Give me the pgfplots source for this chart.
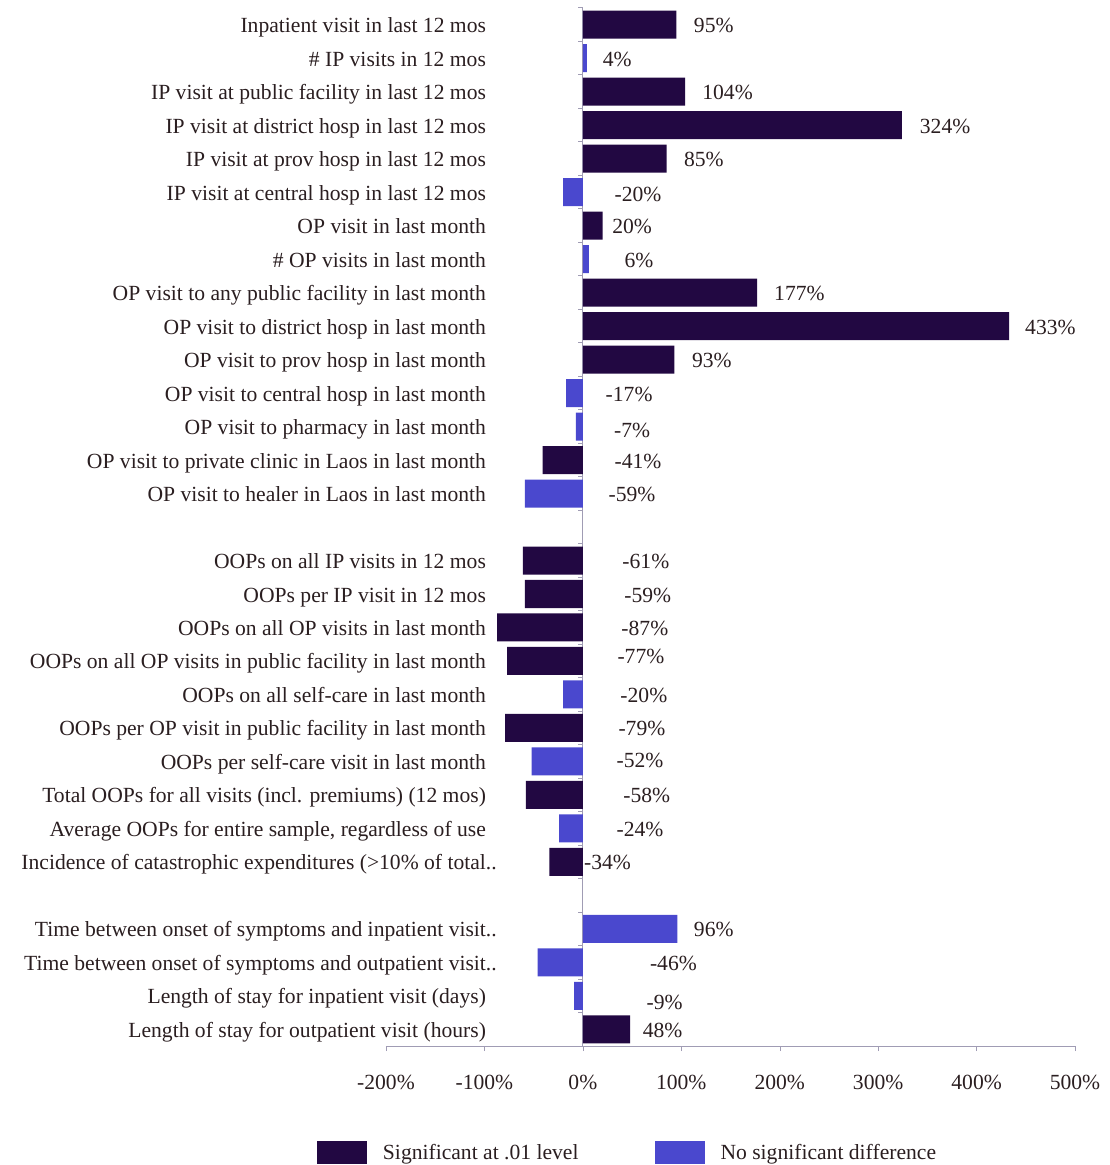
\documentclass[border=0pt]{standalone}
\usepackage{fontspec}
\setmainfont{Liberation Serif}
\usepackage{pgfplots}
\pgfplotsset{compat=1.18}
\usepackage{pgfplotstable}

\definecolor{sigc}{RGB}{34,8,66}
\definecolor{nsc}{RGB}{74,72,206}
\definecolor{txt}{RGB}{42,30,32}
\definecolor{axc}{RGB}{160,156,180}
\newcommand{\lbl}{\fontsize{10.8}{13}\selectfont}

% row = position from the top, val = change in %, lx/ly = where its label sits
\pgfplotstableread{
row val lx ly
0 95 133 0
2 104 147 0
3 324 368 0
4 85 123 0
6 20 50 0
8 177 220 0
9 433 475 0
10 93 131 0
13 -41 56 0
16 -61 64 0
17 -59 66 0
18 -87 63 0
19 -77 59 -0.15
21 -79 60 0
23 -58 65 0
25 -34 25 0
30 48 81 0
}\sigdata

\pgfplotstableread{
row val lx ly
1 4 35 0
5 -20 56 0.05
7 6 57 0
11 -17 47 0
12 -7 50 0.1
14 -59 50 0
20 -20 62 0
22 -52 58 -0.05
24 -24 58 0
27 96 133 0
28 -46 92 0
29 -9 83 0.18
}\nsdata

\begin{document}
\begin{tikzpicture}
\begin{axis}[
    scale only axis,
    width=344.5pt, height=519pt,
    xmin=-200, xmax=500,
    ymin=-0.5, ymax=30.5,
    y dir=reverse,
    clip=false,
    axis x line*=bottom,
    axis y line*=left,
    axis line style={axc, line width=0.5pt},
    y axis line style={draw=none},
    xtick={-200,-100,0,100,200,300,400,500},
    xticklabels={-200\%,-100\%,0\%,100\%,200\%,300\%,400\%,500\%},
    xtick align=outside,
    major tick length=2.5pt,
    xtick style={axc},
    ytick style={draw=none},
    xticklabel style={yshift=-8.5pt},
    ytick={0,...,14,16,17,...,25,27,28,29,30},
    yticklabels={
      Inpatient visit in last 12 mos,
      \# IP visits in 12 mos,
      IP visit at public facility in last 12 mos,
      IP visit at district hosp in last 12 mos,
      IP visit at prov hosp in last 12 mos,
      IP visit at central hosp in last 12 mos,
      OP visit in last month,
      \# OP visits in last month,
      OP visit to any public facility in last month,
      OP visit to district hosp in last month,
      OP visit to prov hosp in last month,
      OP visit to central hosp in last month,
      OP visit to pharmacy in last month,
      OP visit to private clinic in Laos in last month,
      OP visit to healer in Laos in last month,
      OOPs on all IP visits in 12 mos,
      OOPs per IP visit in 12 mos,
      OOPs on all OP visits in last month,
      OOPs on all OP visits in public facility in last month,
      OOPs on all self-care in last month,
      OOPs per OP visit in public facility in last month,
      OOPs per self-care visit in last month,
      Total OOPs for all visits (incl. premiums) (12 mos),
      {Average OOPs for entire sample, regardless of use},
      Incidence of catastrophic expenditures (>10\% of total\rlap{..},
      Time between onset of symptoms and inpatient visit\rlap{..},
      Time between onset of symptoms and outpatient visit\rlap{..},
      Length of stay for inpatient visit (days),
      Length of stay for outpatient visit (hours)
    },
    yticklabel style={xshift=53.5pt, yshift=-1.5pt, anchor=east,
      text height=7.5pt, text depth=2.5pt},
    every tick label/.append style={font=\lbl, text=txt},
    legend style={at={(axis description cs:0.352,-0.103)}, anchor=center,
      overlay, draw=none, fill=none, legend columns=2, font=\lbl, text=txt,
      /tikz/every odd column/.append style={column sep=6pt},
      /tikz/every even column/.append style={column sep=36pt}},
    legend image code/.code={\fill[#1] (0pt,-5.75pt) rectangle (25pt,5.75pt);},
  ]
  % zero line with its small ticks between the rows
  \draw[axc, line width=0.5pt] (axis cs:0,-0.5) -- (axis cs:0,30.5);
  \pgfplotsinvokeforeach{0,...,30}{
    \draw[axc, line width=0.5pt] (axis cs:0,#1-0.5) -- ++(-2.5pt,0pt);
  }

  \addplot[xbar, bar width=14pt, bar shift=0pt, fill=sigc, draw=none]
    table[x=val, y=row] {\sigdata};
  \addlegendentry{Significant at .01 level}
  \addplot[xbar, bar width=14pt, bar shift=0pt, fill=nsc, draw=none]
    table[x=val, y=row] {\nsdata};
  \addlegendentry{No significant difference}

  % value labels
  \addplot[draw=none, forget plot, point meta=explicit symbolic,
    nodes near coords={\pgfplotspointmeta\%},
    nodes near coords style={anchor=center, yshift=-1.5pt, font=\lbl, text=txt,
      text height=7.5pt, text depth=2.5pt}]
    table[x=lx, y expr=\thisrow{row}+\thisrow{ly}, meta=val] {\sigdata};
  \addplot[draw=none, forget plot, point meta=explicit symbolic,
    nodes near coords={\pgfplotspointmeta\%},
    nodes near coords style={anchor=center, yshift=-1.5pt, font=\lbl, text=txt,
      text height=7.5pt, text depth=2.5pt}]
    table[x=lx, y expr=\thisrow{row}+\thisrow{ly}, meta=val] {\nsdata};

  % page extent of the reference
  \path (rel axis cs:-0.5602,-0.1146) rectangle (rel axis cs:1.0493,1.0077);
\end{axis}
\end{tikzpicture}
\end{document}
